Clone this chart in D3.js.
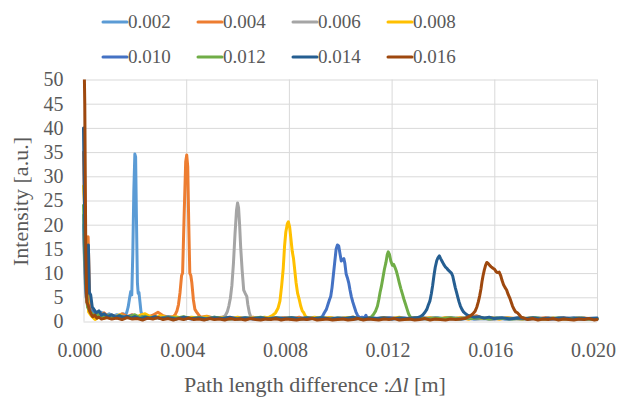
<!DOCTYPE html>
<html>
<head>
<meta charset="utf-8">
<script src="https://cdn.jsdelivr.net/npm/d3@7"></script>
</head>
<body style="margin:0">
<svg id="chart" width="621" height="400" font-family="Liberation Serif"></svg>
<script>
// Series labels (path length difference setting, m) and their line colours
const seriesLabels = ["0.002", "0.004", "0.006", "0.008", "0.010", "0.012", "0.014", "0.016"];
const seriesColors = ["#5B9BD5", "#ED7D31", "#A5A5A5", "#FFC000", "#4472C4", "#70AD47", "#255E91", "#9E480E"];

// Axis ticks: path length difference in mm (labelled in m), intensity in a.u.
const xTicksMm = [0, 4, 8, 12, 16, 20];
const yTicks = [0, 5, 10, 15, 20, 25, 30, 35, 40, 45, 50];

// Measured traces: [path length difference (mm), intensity (a.u.)]
const trace002 = [[0,20],[0.08,7],[0.16,4],[0.24,3],[0.32,2.2],[0.42,1.8],[0.55,1.5],[0.7,1.9],[0.85,1.2],[1.0,1.6],[1.15,1.1],[1.3,1.4],[1.45,1.2],[1.55,1.6],[1.62,1.3],[1.68,1.8],[1.74,3],[1.80,5],[1.84,6.2],[1.88,5.5],[1.92,14],[1.96,27],[2.00,34.6],[2.03,34],[2.06,22],[2.10,8],[2.13,5.8],[2.16,6],[2.20,4],[2.24,2],[2.30,1.2],[2.4,1.0],[2.55,0.8],[2.7,1.1],[2.85,0.7],[3.0,0.9],[3.3,0.6],[3.6,0.8],[3.9,0.5],[4.2,0.7],[4.5,0.6],[4.8,0.8],[5.1,0.5],[5.4,0.7],[5.7,0.4],[6.0,0.8],[6.3,0.5],[6.6,0.6],[6.9,0.4],[7.2,0.7],[7.5,0.5],[7.8,0.8],[8.1,0.5],[8.4,0.6],[8.7,0.4],[9.0,0.7],[9.3,0.5],[9.6,0.8],[9.9,0.5],[10.2,0.6],[10.5,0.4],[10.8,0.7],[11.1,0.5],[11.4,0.6],[11.7,0.8],[12.0,0.5],[12.3,0.6],[12.6,0.4],[12.9,0.7],[13.2,0.5],[13.5,0.6],[13.8,0.8],[14.1,0.5],[14.4,0.6],[14.7,0.4],[15.0,0.7],[15.3,0.5],[15.6,0.6],[15.9,0.4],[16.2,0.7],[16.5,0.5],[16.8,0.6],[17.1,0.4],[17.4,0.6],[17.7,0.5],[18.0,0.7],[18.3,0.4],[18.6,0.6],[18.9,0.5],[19.2,0.6],[19.5,0.4],[19.8,0.5],[20.0,0.5]];

const trace004 = [[0,35],[0.1,8],[0.18,17.5],[0.24,5],[0.3,3],[0.38,2],[0.5,1.6],[0.65,1.2],[0.8,1.8],[0.95,1.1],[1.1,1.3],[1.3,0.9],[1.5,1.6],[1.7,1.0],[1.9,1.4],[2.1,0.8],[2.3,1.2],[2.5,0.9],[2.7,1.3],[2.9,1.9],[3.1,1.2],[3.3,0.9],[3.42,1.0],[3.50,1.0],[3.58,1.5],[3.64,2.2],[3.70,3.5],[3.76,6],[3.82,9.5],[3.86,10],[3.92,22],[3.98,33],[4.02,34.4],[4.06,32],[4.10,20],[4.14,10],[4.18,9.5],[4.22,8],[4.28,4.5],[4.34,2.5],[4.40,2],[4.48,1.4],[4.56,0.9],[4.8,1.1],[5.1,0.7],[5.4,0.9],[5.7,0.6],[6.0,0.8],[6.3,0.5],[6.6,0.9],[6.9,0.6],[7.2,0.7],[7.5,0.5],[7.8,0.8],[8.1,0.6],[8.4,0.9],[8.7,0.5],[9.0,0.7],[9.3,0.6],[9.6,0.8],[9.9,0.5],[10.2,0.7],[10.5,0.9],[10.8,0.6],[11.1,0.7],[11.4,0.5],[11.7,0.8],[12.0,0.6],[12.3,0.7],[12.6,0.5],[12.9,0.8],[13.2,0.6],[13.5,0.7],[13.8,0.5],[14.1,0.8],[14.4,0.6],[14.7,0.7],[15.0,0.5],[15.3,1.2],[15.6,0.6],[15.9,0.7],[16.2,0.5],[16.5,0.8],[16.8,0.6],[17.1,0.7],[17.4,0.5],[17.7,0.6],[18.0,0.8],[18.3,0.5],[18.6,0.7],[18.9,0.6],[19.2,0.5],[19.5,0.7],[19.8,0.5],[20.0,0.6]];

const trace006 = [[0,18],[0.08,6],[0.16,3],[0.26,2.4],[0.36,1.6],[0.5,1.2],[0.65,0.9],[0.8,1.3],[1.0,0.8],[1.2,1.1],[1.4,0.7],[1.6,1.0],[1.8,0.8],[2.0,1.1],[2.2,0.7],[2.4,0.9],[2.6,0.6],[2.8,0.9],[3.0,0.7],[3.3,0.8],[3.6,0.6],[3.9,0.9],[4.2,0.6],[4.5,0.8],[4.8,0.5],[5.1,0.7],[5.4,0.8],[5.52,1.2],[5.60,2.0],[5.66,3.2],[5.72,4.8],[5.78,7.5],[5.84,12],[5.90,18],[5.96,23],[6.00,24.5],[6.04,23.5],[6.08,20],[6.12,15.5],[6.18,10.5],[6.24,6.5],[6.30,5.8],[6.36,5.2],[6.40,3.5],[6.46,1.8],[6.52,0.9],[6.60,0.7],[6.9,0.8],[7.2,0.5],[7.5,0.7],[7.8,0.6],[8.1,0.8],[8.4,0.5],[8.7,0.7],[9.0,0.6],[9.3,0.5],[9.6,0.7],[9.9,0.6],[10.2,0.8],[10.5,0.5],[10.8,0.6],[11.1,0.7],[11.4,0.5],[11.7,0.6],[12.0,0.8],[12.3,0.5],[12.6,0.6],[12.9,0.7],[13.2,0.5],[13.5,0.6],[13.8,0.4],[14.1,0.7],[14.4,0.5],[14.7,0.6],[15.0,0.8],[15.3,0.5],[15.6,0.6],[15.9,0.4],[16.2,0.6],[16.5,0.7],[16.8,0.5],[17.1,0.6],[17.4,0.4],[17.7,0.7],[18.0,0.5],[18.3,0.6],[18.6,0.5],[18.9,0.7],[19.2,0.4],[19.5,0.6],[19.8,0.5],[20.0,0.5]];

const trace008 = [[0,28],[0.06,22],[0.12,8],[0.2,2],[0.3,1.2],[0.45,0.4],[0.6,0.9],[0.8,0.6],[1.0,1.2],[1.2,0.8],[1.4,1.4],[1.6,0.9],[1.8,1.1],[2.0,0.7],[2.2,1.3],[2.4,1.6],[2.6,1.0],[2.8,0.7],[3.0,1.2],[3.3,0.8],[3.6,1.0],[3.9,0.6],[4.2,0.9],[4.5,0.7],[4.8,1.0],[5.1,0.6],[5.4,0.8],[5.7,0.5],[6.0,0.9],[6.3,0.6],[6.6,0.7],[6.9,0.5],[7.05,0.9],[7.20,0.8],[7.35,1.2],[7.48,1.8],[7.58,2.8],[7.65,4.2],[7.72,7.5],[7.78,11],[7.83,15.5],[7.88,18.5],[7.94,20.2],[7.98,20.6],[8.03,19.5],[8.08,17],[8.13,14.5],[8.18,13],[8.23,10.5],[8.28,8],[8.34,5.8],[8.40,4.6],[8.46,3.2],[8.52,2.2],[8.58,1.8],[8.65,1.0],[8.75,0.7],[9.0,0.9],[9.3,0.6],[9.6,0.8],[9.9,0.5],[10.2,0.7],[10.5,0.9],[10.8,0.6],[11.1,0.7],[11.4,0.5],[11.7,0.8],[12.0,0.6],[12.3,0.9],[12.6,0.5],[12.9,0.7],[13.2,0.6],[13.5,0.8],[13.8,0.5],[14.1,0.7],[14.4,0.6],[14.7,0.8],[15.0,0.5],[15.3,0.7],[15.6,0.6],[15.9,0.8],[16.2,0.5],[16.5,0.7],[16.8,0.6],[17.1,0.5],[17.4,0.7],[17.7,0.6],[18.0,0.5],[18.3,0.7],[18.6,0.5],[18.9,0.6],[19.2,0.7],[19.5,0.5],[19.8,0.6],[20.0,0.5]];

const trace010 = [[0,22],[0.08,8],[0.16,3.5],[0.24,2.5],[0.34,2.0],[0.45,1.4],[0.6,1.0],[0.75,1.5],[0.9,0.8],[1.1,1.2],[1.3,0.7],[1.5,1.1],[1.7,0.8],[1.9,1.3],[2.1,0.7],[2.3,1.0],[2.5,0.6],[2.7,0.9],[3.0,0.7],[3.3,1.0],[3.6,0.6],[3.9,0.8],[4.2,0.5],[4.5,0.7],[4.8,0.6],[5.1,0.9],[5.4,0.5],[5.7,0.7],[6.0,0.6],[6.3,0.8],[6.6,0.5],[6.9,0.7],[7.2,0.6],[7.5,0.8],[7.8,0.5],[8.1,0.7],[8.4,0.6],[8.7,0.8],[9.0,0.6],[9.20,0.7],[9.30,1.0],[9.38,1.8],[9.46,2.5],[9.52,3.5],[9.58,4.5],[9.63,5.2],[9.68,7],[9.73,9.5],[9.78,12],[9.84,15],[9.89,15.8],[9.94,15.6],[9.99,14],[10.04,12.5],[10.09,12.8],[10.14,13],[10.18,12],[10.23,9.8],[10.28,9],[10.33,8],[10.38,6.5],[10.43,5.2],[10.49,4],[10.55,3],[10.61,2],[10.67,1.3],[10.75,0.8],[10.85,0.9],[10.95,0.8],[11.00,1.3],[11.05,0.5],[11.3,0.7],[11.6,0.5],[11.9,0.8],[12.2,0.6],[12.5,0.7],[12.8,0.5],[13.1,0.9],[13.4,0.6],[13.7,0.7],[14.0,0.5],[14.3,0.8],[14.6,0.6],[14.9,0.7],[15.2,0.5],[15.5,0.8],[15.8,0.6],[16.1,0.7],[16.4,0.5],[16.7,0.6],[17.0,0.8],[17.3,0.5],[17.6,0.7],[17.9,0.6],[18.2,0.5],[18.5,0.7],[18.8,0.6],[19.1,0.8],[19.4,0.5],[19.7,0.6],[20.0,0.5]];

const trace012 = [[0,24],[0.08,9],[0.16,3],[0.26,2.0],[0.36,1.5],[0.5,1.1],[0.65,1.6],[0.8,0.9],[1.0,1.3],[1.2,0.8],[1.4,1.2],[1.6,0.7],[1.8,1.0],[2.0,1.4],[2.2,0.8],[2.4,1.1],[2.6,0.7],[2.8,1.0],[3.0,0.6],[3.3,0.9],[3.6,0.7],[3.9,1.0],[4.2,0.6],[4.5,0.8],[4.8,0.5],[5.1,0.9],[5.4,0.6],[5.7,0.8],[6.0,0.5],[6.3,0.7],[6.6,0.6],[6.9,0.9],[7.2,0.5],[7.5,0.7],[7.8,0.6],[8.1,0.8],[8.4,0.5],[8.7,0.7],[9.0,0.6],[9.3,0.8],[9.6,0.5],[9.9,0.7],[10.2,0.6],[10.5,0.8],[10.8,0.5],[11.10,0.6],[11.22,1.0],[11.30,1.5],[11.38,2.2],[11.45,3.2],[11.50,4.5],[11.55,6],[11.60,7.2],[11.66,9],[11.72,10.8],[11.78,12.2],[11.83,13.8],[11.87,14.4],[11.92,13.8],[11.97,12.5],[12.03,11.6],[12.08,11.8],[12.13,11.2],[12.18,10.5],[12.24,9.3],[12.30,8],[12.36,6.8],[12.42,5.7],[12.48,4.6],[12.54,3.6],[12.60,2.6],[12.66,1.6],[12.72,1.0],[12.80,0.6],[13.1,0.8],[13.4,0.5],[13.7,0.7],[14.0,0.6],[14.3,0.8],[14.6,0.5],[14.9,0.7],[15.2,0.6],[15.5,0.8],[15.8,0.5],[16.1,0.7],[16.4,0.6],[16.7,0.5],[17.0,0.7],[17.3,0.6],[17.6,0.8],[17.9,0.5],[18.2,0.6],[18.5,0.7],[18.8,0.5],[19.1,0.6],[19.4,0.7],[19.7,0.5],[20.0,0.6]];

const trace014 = [[0,40],[0.06,14],[0.11,5],[0.15,6],[0.19,15.8],[0.23,6],[0.28,5.5],[0.34,3],[0.42,2.4],[0.5,1.8],[0.6,2.2],[0.7,1.3],[0.8,1.6],[0.95,1.0],[1.1,1.4],[1.25,0.9],[1.4,1.2],[1.55,0.8],[1.7,1.1],[1.85,0.7],[2.0,1.0],[2.2,0.6],[2.4,0.9],[2.6,0.7],[2.8,1.0],[3.0,0.6],[3.3,0.8],[3.6,0.5],[3.9,0.9],[4.2,0.6],[4.5,0.7],[4.8,0.5],[5.1,0.8],[5.4,0.6],[5.7,0.9],[6.0,0.5],[6.3,0.7],[6.6,0.6],[6.9,0.8],[7.2,0.5],[7.5,0.7],[7.8,0.6],[8.1,0.8],[8.4,0.5],[8.7,0.7],[9.0,0.6],[9.3,0.8],[9.6,0.5],[9.9,0.7],[10.2,0.6],[10.5,0.9],[10.8,0.5],[11.1,0.7],[11.4,0.6],[11.7,0.8],[12.0,0.5],[12.3,0.7],[12.6,0.6],[12.9,0.8],[13.00,0.8],[13.12,1.0],[13.22,1.4],[13.30,1.9],[13.37,2.5],[13.43,3.4],[13.49,4.2],[13.55,5.8],[13.60,7.5],[13.65,9.5],[13.70,11.2],[13.76,12.6],[13.81,13.2],[13.86,13.55],[13.91,13],[13.97,12.4],[14.03,11.8],[14.09,11.3],[14.15,11],[14.21,10.6],[14.27,10.3],[14.33,10],[14.38,9.4],[14.43,8.2],[14.48,7],[14.53,6],[14.58,5],[14.63,4],[14.68,3.2],[14.74,2.5],[14.80,2],[14.88,1.6],[14.96,1.3],[15.08,1.1],[15.20,0.9],[15.4,1.0],[15.6,0.7],[15.8,0.9],[16.0,0.6],[16.3,0.8],[16.6,0.5],[16.9,0.7],[17.2,0.6],[17.5,0.8],[17.8,0.5],[18.1,0.7],[18.4,0.6],[18.7,0.8],[19.0,0.5],[19.3,0.7],[19.6,0.6],[20.0,0.7]];

const trace016 = [[0,62],[0.05,45],[0.09,14],[0.13,4],[0.18,3.4],[0.24,2.2],[0.3,1.5],[0.36,1.0],[0.44,1.3],[0.52,0.7],[0.6,0.9],[0.7,0.5],[0.9,0.8],[1.1,0.5],[1.3,0.7],[1.5,0.4],[1.7,0.8],[1.9,0.5],[2.1,0.6],[2.3,0.3],[2.5,0.7],[2.7,0.5],[2.9,0.8],[3.1,0.4],[3.3,0.6],[3.5,0.3],[3.7,0.6],[3.9,0.4],[4.1,0.7],[4.3,0.4],[4.5,0.5],[4.7,0.3],[4.9,0.6],[5.1,0.4],[5.3,0.5],[5.5,0.3],[5.7,0.6],[5.9,0.4],[6.1,0.5],[6.3,0.3],[6.5,0.6],[6.7,0.4],[6.9,0.3],[7.1,0.5],[7.3,0.4],[7.5,0.6],[7.7,0.3],[7.9,0.5],[8.1,0.4],[8.3,0.3],[8.5,0.5],[8.7,0.4],[8.9,0.6],[9.1,0.3],[9.3,0.4],[9.5,0.5],[9.7,0.3],[9.9,0.4],[10.1,0.5],[10.3,0.3],[10.5,0.4],[10.7,0.6],[10.9,0.3],[11.1,0.5],[11.3,0.4],[11.5,0.3],[11.7,0.5],[11.9,0.4],[12.1,0.6],[12.3,0.3],[12.5,0.4],[12.7,0.5],[12.9,0.3],[13.1,0.4],[13.3,0.6],[13.5,0.3],[13.7,0.5],[13.9,0.4],[14.1,0.3],[14.3,0.5],[14.5,0.4],[14.70,0.5],[14.85,0.6],[14.97,0.9],[15.07,1.2],[15.17,1.6],[15.25,2.1],[15.32,3],[15.38,4.1],[15.43,5.3],[15.48,6.7],[15.52,8.2],[15.56,9.4],[15.61,10.6],[15.66,11.6],[15.71,12.2],[15.76,12.0],[15.82,11.6],[15.88,11.3],[15.95,11.0],[16.01,10.8],[16.07,10.3],[16.13,10.1],[16.19,10.2],[16.25,9.5],[16.30,8.5],[16.36,7.6],[16.42,7],[16.48,6.5],[16.54,5.6],[16.60,4.9],[16.66,4],[16.71,3.2],[16.77,2.5],[16.83,2.0],[16.90,1.8],[16.97,1.4],[17.05,0.9],[17.15,0.7],[17.3,0.4],[17.5,0.6],[17.7,0.3],[17.9,0.5],[18.1,0.4],[18.3,0.6],[18.5,0.3],[18.7,0.5],[18.9,0.4],[19.1,0.3],[19.3,0.5],[19.5,0.4],[19.7,0.6],[19.9,0.3],[20.0,0.4]];

const traces = [trace002, trace004, trace006, trace008, trace010, trace012, trace014, trace016];

// ---- layout ----
const svg = d3.select("#chart");
const plot = { left: 83.5, right: 597, top: 79.5, bottom: 321.5 };
const textColor = "#595959";
const gridColor = "#D9D9D9";
const serifFont = "Liberation Serif";

const x = d3.scaleLinear().domain([0, 20]).range([plot.left, plot.right]);
const y = d3.scaleLinear().domain([0, 50]).range([plot.bottom, plot.top]);

// horizontal gridlines + intensity labels
const yAxis = svg.append("g")
  .attr("transform", `translate(${plot.left},0)`)
  .call(d3.axisLeft(y).tickValues(yTicks).tickSize(-(plot.right - plot.left)).tickPadding(20));
yAxis.attr("font-family", serifFont).attr("font-size", 20);
yAxis.select(".domain").remove();
yAxis.selectAll(".tick line").attr("stroke", gridColor).attr("stroke-width", 1);
yAxis.selectAll(".tick text").attr("fill", textColor).attr("font-family", serifFont);

// vertical gridlines + path length labels
const xAxis = svg.append("g")
  .attr("transform", `translate(0,${plot.bottom})`)
  .call(d3.axisBottom(x).tickValues(xTicksMm).tickSize(-(plot.bottom - plot.top)).tickPadding(21)
    .tickFormat(d => (d / 1000).toFixed(3)));
xAxis.attr("font-family", serifFont).attr("font-size", 20);
xAxis.select(".domain").remove();
xAxis.selectAll(".tick line").attr("stroke", gridColor).attr("stroke-width", 1);
xAxis.selectAll(".tick text").attr("fill", textColor).attr("font-family", serifFont).attr("dx", -4);

// traces, clipped to the plot area
svg.append("clipPath").attr("id", "plotClip")
  .append("rect")
  .attr("x", plot.left - 2).attr("y", plot.top)
  .attr("width", plot.right - plot.left + 4).attr("height", plot.bottom - plot.top + 4);

const line = d3.line().x(d => x(d[0])).y(d => y(d[1]));
svg.append("g").attr("clip-path", "url(#plotClip)")
  .selectAll("path")
  .data(traces)
  .join("path")
  .attr("d", line)
  .attr("fill", "none")
  .attr("stroke", (d, i) => seriesColors[i])
  .attr("stroke-width", 3)
  .attr("stroke-linejoin", "round")
  .attr("stroke-linecap", "round");

// legend: two rows of four
const legendItems = svg.append("g").selectAll("g")
  .data(seriesLabels)
  .join("g")
  .attr("transform", (d, i) => `translate(${103 + (i % 4) * 95},${i < 4 ? 22 : 57})`);
legendItems.append("line")
  .attr("x1", 0).attr("x2", 24).attr("y1", 0).attr("y2", 0)
  .attr("stroke", (d, i) => seriesColors[i])
  .attr("stroke-width", 3)
  .attr("stroke-linecap", "round");
legendItems.append("text")
  .attr("x", 25).attr("y", 0).attr("dy", "0.34em")
  .attr("fill", textColor)
  .attr("font-family", serifFont)
  .attr("font-size", 19)
  .text(d => d);

// axis titles
const xTitle = svg.append("text")
  .attr("x", 315).attr("y", 392)
  .attr("text-anchor", "middle")
  .attr("fill", textColor)
  .attr("font-family", serifFont)
  .attr("font-size", 22);
xTitle.append("tspan").text("Path length difference :");
xTitle.append("tspan").attr("font-style", "italic").text("Δl");
xTitle.append("tspan").text(" [m]");

svg.append("text")
  .attr("transform", `translate(21,201.5) rotate(-90)`)
  .attr("text-anchor", "middle")
  .attr("dy", "0.34em")
  .attr("fill", textColor)
  .attr("font-family", serifFont)
  .attr("font-size", 22)
  .text("Intensity [a.u.]");
</script>
</body>
</html>
